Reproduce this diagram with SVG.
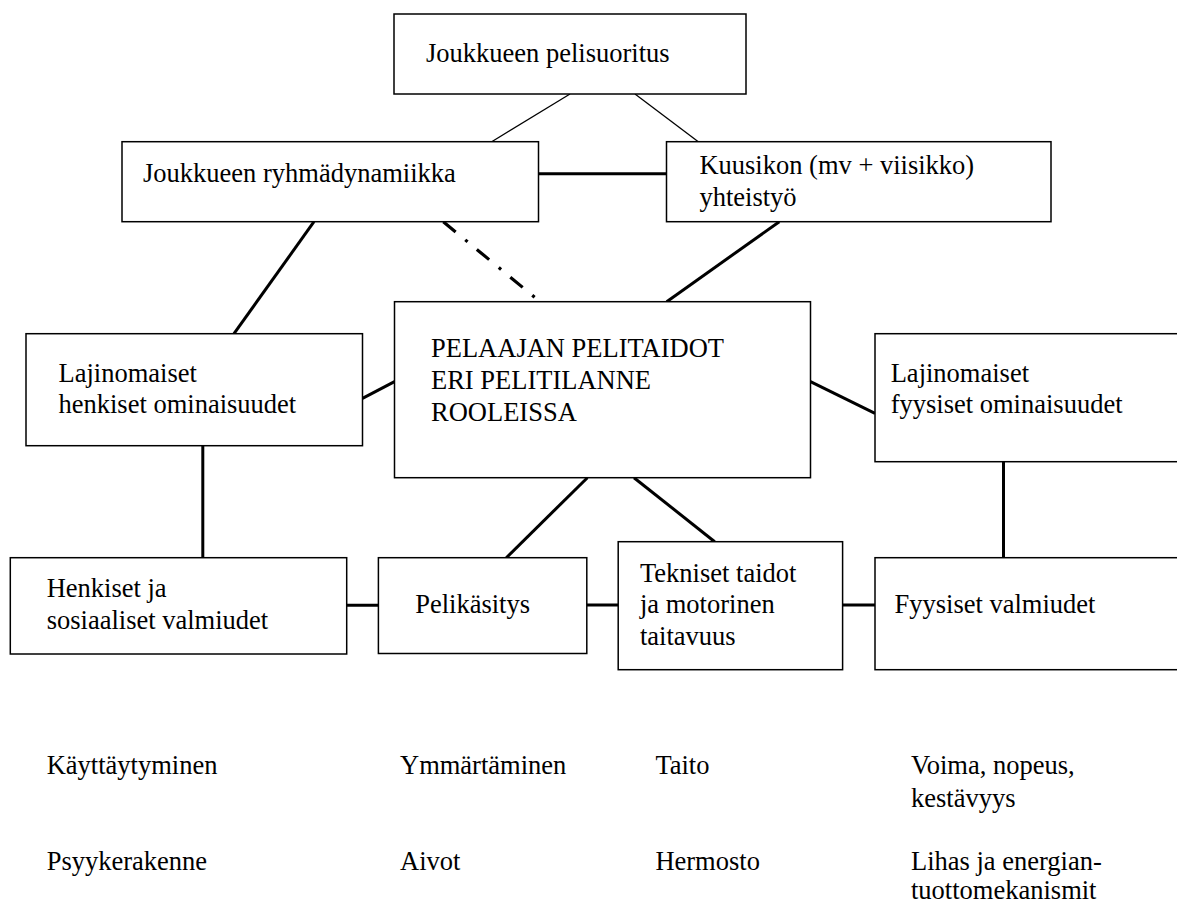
<svg xmlns="http://www.w3.org/2000/svg" width="1177" height="905" viewBox="0 0 1177 905">
<style>
.box{fill:#fff;stroke:#000;stroke-width:1.5}
.t{font-family:"Liberation Serif","Times New Roman","DejaVu Serif",serif;font-size:26.5px;fill:#000}
.thin{stroke:#000;stroke-width:1.3;fill:none}
.thick{stroke:#000;stroke-width:3;fill:none}
.dd{stroke:#000;stroke-width:3.2;fill:none;stroke-dasharray:16 12.5 3 12}
</style>
<rect width="1177" height="905" fill="#fff"/>
<g id="connectors">
<line class="thin" x1="570" y1="94" x2="491.7" y2="141.7"/>
<line class="thin" x1="635" y1="94" x2="698.3" y2="141.7"/>
<line class="thick" x1="538.5" y1="173.7" x2="666.5" y2="173.7"/>
<line class="thick" x1="314" y1="221.7" x2="234" y2="333.7"/>
<line class="dd" x1="443.3" y1="221.7" x2="535.5" y2="298"/>
<line class="thick" x1="779.3" y1="221.7" x2="666.7" y2="301.7"/>
<line class="thick" x1="362.5" y1="398.3" x2="394.5" y2="381.7"/>
<line class="thick" x1="810.5" y1="381.7" x2="875" y2="413.3"/>
<line class="thick" x1="202.8" y1="445.7" x2="202.8" y2="557.7"/>
<line class="thick" x1="1003.5" y1="461.7" x2="1003.5" y2="557.7"/>
<line class="thick" x1="587.4" y1="477.7" x2="506.3" y2="557.7"/>
<line class="thick" x1="634" y1="477.7" x2="714.7" y2="541.7"/>
<line class="thick" x1="346.7" y1="605.3" x2="378.4" y2="605.3"/>
<line class="thick" x1="586.8" y1="605" x2="618.2" y2="605"/>
<line class="thick" x1="842.6" y1="605" x2="875" y2="605"/>
</g>
<g id="n-pelisuoritus">
<rect class="box" x="394" y="14" width="352" height="80"/>
<text class="t" x="426" y="62">Joukkueen pelisuoritus</text>
</g>
<g id="n-ryhmadynamiikka">
<rect class="box" x="122" y="141.7" width="416.5" height="80"/>
<text class="t" x="143" y="181.7">Joukkueen ryhmädynamiikka</text>
</g>
<g id="n-kuusikon">
<rect class="box" x="666.5" y="141.7" width="384.5" height="80"/>
<text class="t" x="699.4" y="174">Kuusikon (mv + viisikko)</text>
<text class="t" x="699.4" y="206">yhteistyö</text>
</g>
<g id="n-pelaajan">
<rect class="box" x="394.5" y="301.7" width="416" height="176"/>
<text class="t" x="431" y="357">PELAAJAN PELITAIDOT</text>
<text class="t" x="431" y="389">ERI PELITILANNE</text>
<text class="t" x="431" y="421">ROOLEISSA</text>
</g>
<g id="n-laj-henkiset">
<rect class="box" x="26" y="333.7" width="336.5" height="112"/>
<text class="t" x="58.5" y="381.7">Lajinomaiset</text>
<text class="t" x="58.5" y="413.3">henkiset ominaisuudet</text>
</g>
<g id="n-laj-fyysiset">
<rect class="box" x="875" y="333.7" width="320" height="128"/>
<text class="t" x="890.7" y="381.7">Lajinomaiset</text>
<text class="t" x="890.7" y="413.3">fyysiset ominaisuudet</text>
</g>
<g id="n-henkiset-sos">
<rect class="box" x="10.3" y="557.7" width="336.4" height="96.3"/>
<text class="t" x="46.7" y="597.3">Henkiset ja</text>
<text class="t" x="46.7" y="629.3">sosiaaliset valmiudet</text>
</g>
<g id="n-pelikasitys">
<rect class="box" x="378.4" y="557.7" width="208.4" height="95.8"/>
<text class="t" x="415.2" y="613.3">Pelikäsitys</text>
</g>
<g id="n-tekniset">
<rect class="box" x="618.2" y="541.7" width="224.4" height="128"/>
<text class="t" x="640" y="581.7">Tekniset taidot</text>
<text class="t" x="640" y="613.3">ja motorinen</text>
<text class="t" x="640" y="645">taitavuus</text>
</g>
<g id="n-fyysiset-valmiudet">
<rect class="box" x="875" y="557.7" width="320" height="112"/>
<text class="t" x="894.5" y="613.3">Fyysiset valmiudet</text>
</g>
<g id="bottom-labels">
<text class="t" x="46.7" y="774.3">Käyttäytyminen</text>
<text class="t" x="400" y="774.3">Ymmärtäminen</text>
<text class="t" x="655.4" y="774.3">Taito</text>
<text class="t" x="911" y="774.3">Voima, nopeus,</text>
<text class="t" x="911" y="806.7">kestävyys</text>
<text class="t" x="46.7" y="870">Psyykerakenne</text>
<text class="t" x="400" y="870">Aivot</text>
<text class="t" x="655.4" y="870">Hermosto</text>
<text class="t" x="911" y="870">Lihas ja energian-</text>
<text class="t" x="911" y="899">tuottomekanismit</text>
</g>
</svg>
